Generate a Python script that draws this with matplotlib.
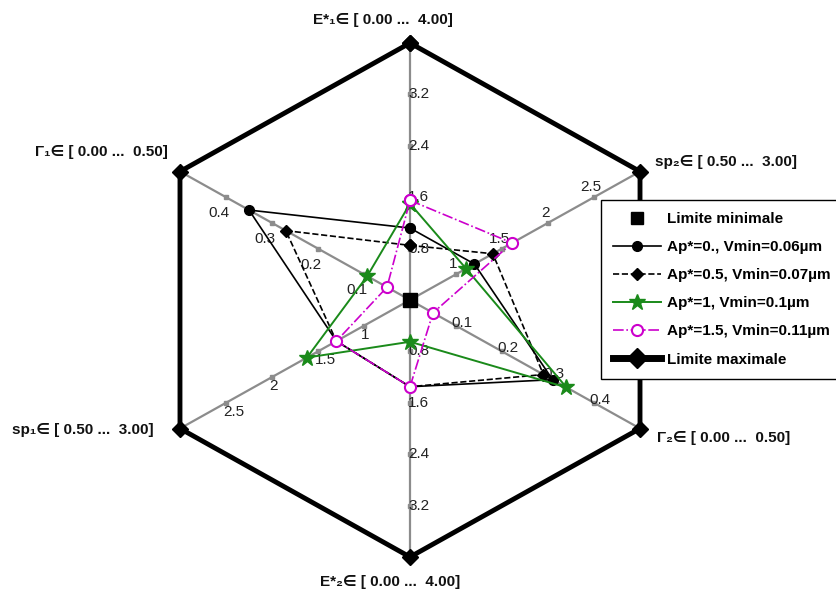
import numpy as np
import matplotlib
matplotlib.use("Agg")
import matplotlib.pyplot as plt
from matplotlib.lines import Line2D

plt.rcParams['font.family'] = ['Liberation Sans', 'DejaVu Sans']

# ---------------- data ----------------
axis_names = ["E*1", "sp2", "G2", "E*2", "sp1", "G1"]
axis_titles = ["E*₁∈ [ 0.00 ...  4.00]", "sp₂∈ [ 0.50 ...  3.00]",
               "Γ₂∈ [ 0.00 ...  0.50]", "E*₂∈ [ 0.00 ...  4.00]",
               "sp₁∈ [ 0.50 ...  3.00]", "Γ₁∈ [ 0.00 ...  0.50]"]
axis_min = [0.0, 0.5, 0.0, 0.0, 0.5, 0.0]
axis_max = [4.0, 3.0, 0.5, 4.0, 3.0, 0.5]
axis_ticks = [[0.8, 1.6, 2.4, 3.2], [1, 1.5, 2, 2.5], [0.1, 0.2, 0.3, 0.4],
              [0.8, 1.6, 2.4, 3.2], [1, 1.5, 2, 2.5], [0.1, 0.2, 0.3, 0.4]]
tick_labels = [["0.8", "1.6", "2.4", "3.2"], ["1", "1.5", "2", "2.5"],
               ["0.1", "0.2", "0.3", "0.4"], ["0.8", "1.6", "2.4", "3.2"],
               ["1", "1.5", "2", "2.5"], ["0.1", "0.2", "0.3", "0.4"]]

series_labels = ["Ap*=0., Vmin=0.06µm", "Ap*=0.5, Vmin=0.07µm",
                 "Ap*=1, Vmin=0.1µm", "Ap*=1.5, Vmin=0.11µm"]
ap0 = [1.12, 1.20, 0.31, 1.35, 1.30, 0.35]
ap05 = [0.85, 1.40, 0.29, 1.35, 1.30, 0.27]
ap1 = [1.50, 1.11, 0.34, 0.65, 1.62, 0.093]
ap15 = [1.55, 1.61, 0.05, 1.35, 1.30, 0.05]

# ---------------- geometry ----------------
angles = np.deg2rad([90, 30, -30, -90, 210, 150])

def to_xy(vals):
    v = np.asarray(vals, float)
    r = (v - np.array(axis_min)) / (np.array(axis_max) - np.array(axis_min))
    return r * np.cos(angles), r * np.sin(angles)

fig = plt.figure(figsize=(8.36, 6.02), dpi=100)
ax = fig.add_axes([0, 0, 1, 1])
sx, sy = 265.6, 257.0
cx, cy = 410.0, 302.0
ax.set_xlim(-cx / sx, (836 - cx) / sx)
ax.set_ylim(-cy / sy, (602 - cy) / sy)
ax.axis('off')

grey = '#8c8c8c'
# spokes
for a in angles:
    ax.plot([0, np.cos(a)], [0, np.sin(a)], color=grey, lw=1.6, zorder=1)

# ticks & labels
offsets = [(-2, 0, 'left', 'center'), (-3, 10, 'center', 'center'),
           (6, 3, 'center', 'center'), (-2, 0, 'left', 'center'),
           (-3, -9, 'left', 'center'), (-7, -16, 'center', 'center')]
for i, a in enumerate(angles):
    for t, lab in zip(axis_ticks[i], tick_labels[i]):
        r = (t - axis_min[i]) / (axis_max[i] - axis_min[i])
        x, y = r * np.cos(a), r * np.sin(a)
        ax.plot([x], [y], marker='s', ms=3.5, color=grey, mec=grey, zorder=2)
        dx, dy, ha, va = offsets[i]
        ax.annotate(lab, (x, y), xytext=(dx, dy), textcoords='offset pixels',
                    ha=ha, va=va, fontsize=11, color='#222222', zorder=3)

# limite maximale
mx, my = to_xy(axis_max)
ax.plot(np.r_[mx, mx[0]], np.r_[my, my[0]], color='black', lw=3.5,
        marker='D', ms=8, zorder=4)

# limite minimale
nx, ny = to_xy(axis_min)
ax.plot(nx[:1], ny[:1], ls='none', marker='s', ms=10, color='black', zorder=6)

styles = [dict(color='black', ls='-', marker='o', ms=7, mfc='black', lw=1.2),
          dict(color='black', ls='--', marker='D', ms=6, mfc='black', lw=1.2),
          dict(color='#1a8a1a', ls='-', marker='*', ms=12, mfc='#1a8a1a', lw=1.4),
          dict(color='#cc00cc', ls='-.', marker='o', ms=8, mfc='white', mew=1.5, lw=1.2)]
for vals, st in zip([ap0, ap05, ap1, ap15], styles):
    x, y = to_xy(vals)
    ax.plot(np.r_[x, x[0]], np.r_[y, y[0]], zorder=5, **st)

# axis titles
title_pos = [(313, 20, 'left'), (655, 162, 'left'), (657, 438, 'left'),
             (320, 582, 'left'), (12, 430, 'left'), (35, 152, 'left')]
for (px, py, ha), txt in zip(title_pos, axis_titles):
    fig.text(px / 836, 1 - py / 602, txt, ha=ha, va='center', fontsize=11,
             fontweight='bold', color='#111111')

# legend
handles = [Line2D([], [], ls='none', marker='s', ms=9, color='black')]
for st in styles:
    handles.append(Line2D([], [], **st))
handles.append(Line2D([], [], color='black', lw=5, marker='D', ms=10))
labels = ["Limite minimale"] + series_labels + ["Limite maximale"]
leg = fig.legend(handles, labels, loc='upper left',
                 bbox_to_anchor=(601 / 836, 1 - 200 / 602),
                 prop={'weight': 'bold', 'size': 11}, frameon=True,
                 fancybox=False, edgecolor='black', framealpha=1,
                 handlelength=3.1, handletextpad=0.4, labelspacing=0.92,
                 borderpad=0.8, borderaxespad=0)
leg.get_frame().set_linewidth(1.0)
leg.set_zorder(10)

fig.savefig("out.png", dpi=100)
